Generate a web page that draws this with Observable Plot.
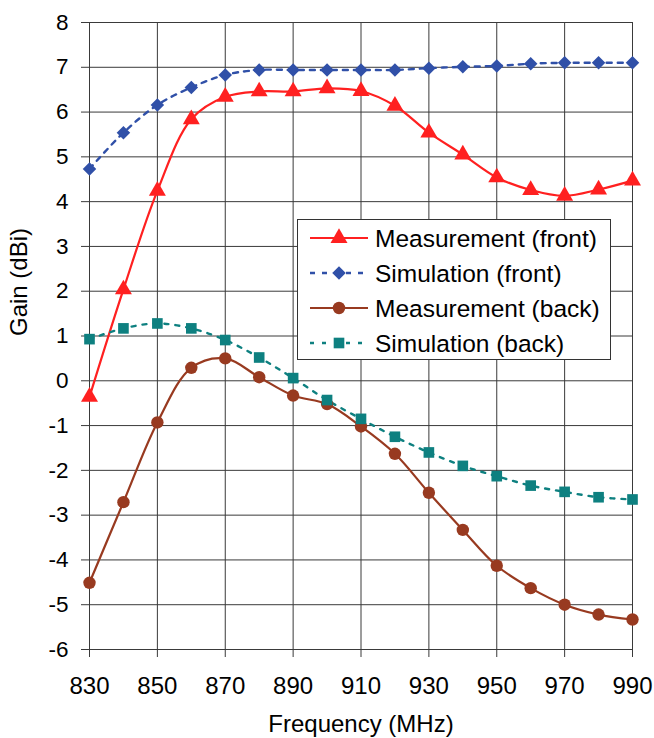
<!DOCTYPE html>
<html>
<head>
<meta charset="utf-8">
<script src="https://cdn.jsdelivr.net/npm/d3@7"></script>
<script src="https://cdn.jsdelivr.net/npm/@observablehq/plot@0.6"></script>
<style>
  html, body { margin: 0; padding: 0; background: #fff; }
  #wrap { position: relative; width: 654px; height: 738px; font-family: "Liberation Sans", Arial, sans-serif; }
  #legend { position: absolute; left: 297px; top: 219px; }
</style>
</head>
<body>
<div id="wrap"></div>
<script>
const freq = [830, 840, 850, 860, 870, 880, 890, 900, 910, 920, 930, 940, 950, 960, 970, 980, 990];
const measFront = [-0.36, 2.04, 4.24, 5.84, 6.34, 6.46, 6.46, 6.53, 6.47, 6.14, 5.54, 5.05, 4.54, 4.26, 4.13, 4.27, 4.47];
const simFront  = [4.73, 5.54, 6.16, 6.55, 6.83, 6.94, 6.94, 6.94, 6.94, 6.94, 6.98, 7.01, 7.03, 7.08, 7.10, 7.10, 7.10];
const measBack  = [-4.51, -2.71, -0.93, 0.29, 0.50, 0.08, -0.33, -0.52, -1.02, -1.63, -2.50, -3.33, -4.13, -4.63, -5.00, -5.22, -5.33];
const simBack   = [0.93, 1.17, 1.28, 1.17, 0.91, 0.52, 0.06, -0.43, -0.85, -1.25, -1.60, -1.90, -2.13, -2.34, -2.48, -2.60, -2.65];
const seriesNames = ["Measurement (front)", "Simulation (front)", "Measurement (back)", "Simulation (back)"];
const xTicks = [830, 850, 870, 890, 910, 930, 950, 970, 990];
const yTicks = [-6, -5, -4, -3, -2, -1, 0, 1, 2, 3, 4, 5, 6, 7, 8];
const xLabel = "Frequency (MHz)";
const yLabel = "Gain (dBi)";

const styles = [
  {color: "#ff2020", symbol: "triangle", r: 6.3, width: 2.2, dash: null, curve: "catmull-rom"},
  {color: "#3050a8", symbol: "diamond2", r: 6.1, width: 2.4, dash: "5,6", curve: "catmull-rom"},
  {color: "#983a20", symbol: "circle", r: 6.2, width: 2.2, dash: null, curve: "catmull-rom"},
  {color: "#0e8080", symbol: "square", r: 6.0, width: 2.4, dash: "4,7", curve: "catmull-rom"}
];
const values = [measFront, simFront, measBack, simBack];

const seriesMarks = [];
values.forEach((vals, i) => {
  const s = styles[i];
  const data = freq.map((f, j) => ({f, g: vals[j], series: seriesNames[i]}));
  seriesMarks.push(Plot.line(data, {x: "f", y: "g", stroke: s.color, strokeWidth: s.width,
    strokeDasharray: s.dash, curve: s.curve}));
});
values.forEach((vals, i) => {
  const s = styles[i];
  const data = freq.map((f, j) => ({f, g: vals[j], series: seriesNames[i]}));
  seriesMarks.push(Plot.dot(data, {x: "f", y: "g", symbol: () => s.symbol, r: s.r, fill: s.color, stroke: "none"}));
});

const chart = Plot.plot({
  width: 654,
  height: 738,
  marginLeft: 89,
  marginRight: 22,
  marginTop: 22,
  marginBottom: 89,
  style: {fontFamily: "'Liberation Sans', Arial, sans-serif", color: "#000", background: "#fff"},
  x: {domain: [830, 990]},
  y: {domain: [-6, 8]},
  marks: [
    Plot.gridX({ticks: xTicks, stroke: "#3a3a3a", strokeOpacity: 1, strokeWidth: 1}),
    Plot.gridY({ticks: yTicks, stroke: "#3a3a3a", strokeOpacity: 1, strokeWidth: 1}),
    Plot.axisX({ticks: xTicks, tickSize: 8, tickPadding: 19, fontSize: 24, label: null, stroke: "#3a3a3a", tickFormat: d => String(d)}),
    Plot.axisY({ticks: yTicks, tickSize: 8, tickPadding: 13, fontSize: 22.5, label: null, stroke: "#3a3a3a", tickFormat: d => String(d)}),
    ...seriesMarks,
    Plot.text([xLabel], {frameAnchor: "bottom", text: d => d, dy: 75, fontSize: 24, lineAnchor: "middle", fill: "#000"}),
    Plot.text([yLabel], {frameAnchor: "left", text: d => d, dx: -70, rotate: -90, fontSize: 24, lineAnchor: "middle", fill: "#000"})
  ]
});
document.getElementById("wrap").appendChild(chart);

// Legend overlay
const W = 314, H = 141;
const leg = d3.select("#wrap").append("svg").attr("id", "legend")
  .attr("width", W).attr("height", H);
leg.append("rect").attr("x", 0.5).attr("y", 0.5).attr("width", W - 1).attr("height", H - 1)
  .attr("fill", "#fff").attr("stroke", "#333").attr("stroke-width", 1);
const symMap = {triangle: d3.symbolTriangle, diamond2: d3.symbolDiamond2, circle: d3.symbolCircle, square: d3.symbolSquare};
seriesNames.forEach((name, i) => {
  const s = styles[i];
  const cy = 19 + i * 35;
  const g = leg.append("g");
  g.append("line").attr("x1", 13).attr("x2", 71).attr("y1", cy).attr("y2", cy)
    .attr("stroke", s.color).attr("stroke-width", s.width)
    .attr("stroke-dasharray", s.dash ? (i === 1 ? "5,7" : "4,8") : null);
  g.append("path").attr("transform", `translate(42,${cy})`)
    .attr("d", d3.symbol(symMap[s.symbol], Math.PI * s.r * s.r)())
    .attr("fill", s.color);
  g.append("text").attr("x", 78).attr("y", cy + 8.5).attr("font-size", 24.5)
    .attr("font-family", "'Liberation Sans', Arial, sans-serif").attr("fill", "#000").text(name);
});
</script>
</body>
</html>
